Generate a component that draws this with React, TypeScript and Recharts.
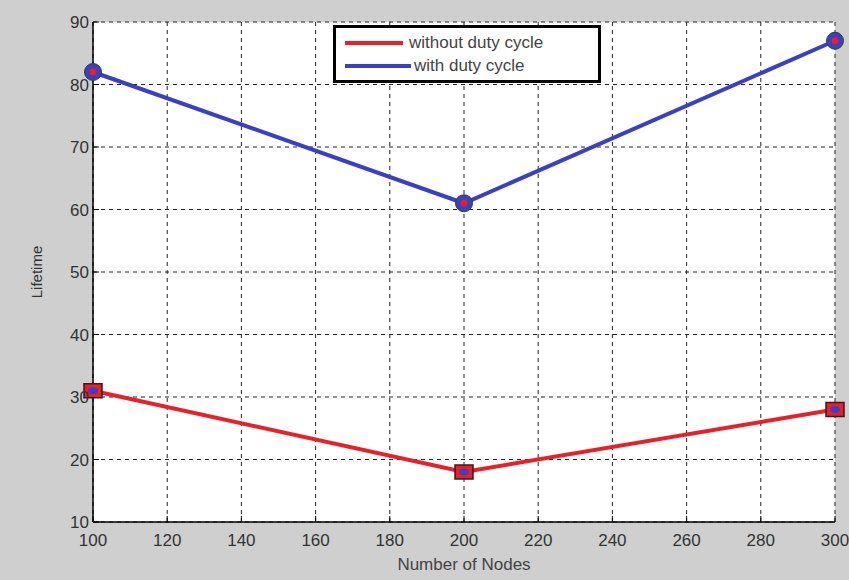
import React from 'react';
import {
  LineChart,
  Line,
  XAxis,
  YAxis,
  CartesianGrid,
} from 'recharts';

const nodes = [100, 200, 300];
const withoutDutyCycle = [31, 18, 28];
const withDutyCycle = [82, 61, 87];

const xTicks = [100, 120, 140, 160, 180, 200, 220, 240, 260, 280, 300];
const yTicks = [10, 20, 30, 40, 50, 60, 70, 80, 90];

const RED = '#e8202a';
const BLUE = '#3b3fc4';
const FONT = 'Liberation Sans, Arial, sans-serif';

const data = nodes.map((n, i) => ({
  nodes: n,
  without: withoutDutyCycle[i],
  with: withDutyCycle[i],
}));

const SquareDot = (props: any) => {
  const { cx, cy } = props;
  if (cx == null || cy == null) return null;
  return (
    <g>
      <rect x={cx - 9} y={cy - 7} width={18} height={14} fill={RED} stroke="#3a1a1a" strokeWidth={1.5} />
      <ellipse cx={cx} cy={cy} rx={5} ry={3.5} fill={BLUE} />
    </g>
  );
};

const CircleDot = (props: any) => {
  const { cx, cy } = props;
  if (cx == null || cy == null) return null;
  return (
    <g>
      <circle cx={cx} cy={cy} r={8.5} fill={BLUE} stroke="#2a4a2a" strokeWidth={1} />
      <circle cx={cx} cy={cy} r={3.5} fill={RED} />
    </g>
  );
};

// legend box drawn over the chart, like the MATLAB one
const LegendBox = () => (
  <div
    style={{
      position: 'absolute',
      left: 333,
      top: 25,
      width: 262,
      height: 52,
      border: '3px solid #000',
      background: '#fff',
      fontFamily: FONT,
      fontSize: 17,
      color: '#444',
    }}
  >
    <div style={{ display: 'flex', alignItems: 'center', height: 24, marginTop: 3 }}>
      <div style={{ width: 58, height: 4, background: RED, marginLeft: 9, marginRight: 6 }} />
      <span>without duty cycle</span>
    </div>
    <div style={{ display: 'flex', alignItems: 'center', height: 22 }}>
      <div style={{ width: 66, height: 4, background: BLUE, marginLeft: 9, marginRight: 3 }} />
      <span>with duty cycle</span>
    </div>
  </div>
);

export default function App() {
  const tickStyle = { fill: '#333', fontSize: 17, fontFamily: FONT };
  return (
    <div style={{ position: 'absolute', left: 0, top: 0, width: 849, height: 580, background: '#cfcfcf' }}>
      <LineChart
        width={849}
        height={580}
        data={data}
        margin={{ top: 22, right: 14, bottom: 28, left: 30 }}
      >
        <CartesianGrid
          fill="#ffffff"
          stroke="#222"
          strokeDasharray="4 4"
          horizontalValues={yTicks}
          verticalValues={xTicks}
        />
        <XAxis
          dataKey="nodes"
          type="number"
          domain={[100, 300]}
          ticks={xTicks}
          height={30}
          axisLine={{ stroke: '#000', strokeWidth: 1.5 }}
          tickLine={{ stroke: '#000' }}
          tickSize={-6}
          tickMargin={18}
          tick={tickStyle}
          label={{
            value: 'Number of Nodes',
            position: 'insideBottom',
            offset: -18,
            style: { fill: '#444', fontSize: 17, fontFamily: FONT },
          }}
        />
        <YAxis
          type="number"
          domain={[10, 90]}
          ticks={yTicks}
          width={63}
          axisLine={{ stroke: '#000', strokeWidth: 1.5 }}
          tickLine={{ stroke: '#000' }}
          tickSize={-6}
          tickMargin={10}
          tick={tickStyle}
          label={{
            value: 'Lifetime',
            angle: -90,
            position: 'insideLeft',
            offset: 7,
            style: { fill: '#333', fontSize: 15, fontFamily: FONT, textAnchor: 'middle' },
          }}
        />
        <Line
          dataKey="without"
          name="without duty cycle"
          stroke={RED}
          strokeWidth={4}
          dot={<SquareDot />}
          isAnimationActive={false}
        />
        <Line
          dataKey="with"
          name="with duty cycle"
          stroke={BLUE}
          strokeWidth={4}
          dot={<CircleDot />}
          isAnimationActive={false}
        />
      </LineChart>
      <LegendBox />
    </div>
  );
}
